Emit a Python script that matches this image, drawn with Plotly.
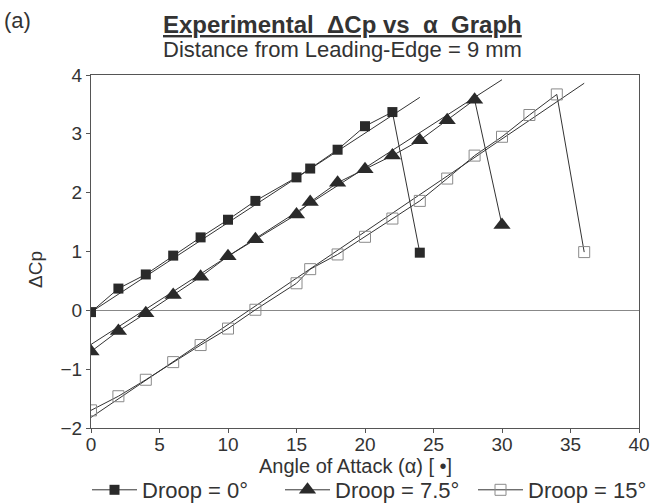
import plotly.graph_objects as go

# ---- data ----
alpha_d0 = [0, 2, 4, 6, 8, 10, 12, 15, 16, 18, 20, 22, 24]
dcp_d0 = [-0.03, 0.37, 0.61, 0.93, 1.24, 1.54, 1.86, 2.26, 2.41, 2.73, 3.13, 3.37, 0.98]

alpha_d75 = [0, 2, 4, 6, 8, 10, 12, 15, 16, 18, 20, 22, 24, 26, 28, 30]
dcp_d75 = [-0.70, -0.35, -0.05, 0.26, 0.57, 0.92, 1.21, 1.63, 1.84, 2.17, 2.40, 2.63, 2.89, 3.23, 3.58, 1.45]

alpha_d15 = [0, 2, 4, 6, 8, 10, 12, 15, 16, 18, 20, 22, 24, 26, 28, 30, 32, 34, 36]
dcp_d15 = [-1.70, -1.46, -1.18, -0.88, -0.59, -0.31, 0.01, 0.46, 0.70, 0.95, 1.25, 1.56, 1.86, 2.24,
           2.63, 2.95, 3.32, 3.67, 0.99]

# linear-fit lines (end points)
fit_x_d0 = [0, 24]
fit_y_d0 = [-0.03, 3.62]
fit_x_d75 = [0, 30]
fit_y_d75 = [-0.58, 3.92]
fit_x_d15 = [0, 36]
fit_y_d15 = [-1.82, 3.86]

legend_names = ["Droop = 0°", "Droop = 7.5°", "Droop = 15°"]
x_ticks = [0, 5, 10, 15, 20, 25, 30, 35, 40]
y_ticks = [-2, -1, 0, 1, 2, 3, 4]

FONT = "Liberation Sans, Arial, sans-serif"
INK = "#2a2a2a"
TXT = "#333333"
GREY = "#8a8a8a"

fig = go.Figure()

# fit lines
for fx, fy in [(fit_x_d0, fit_y_d0), (fit_x_d75, fit_y_d75), (fit_x_d15, fit_y_d15)]:
    fig.add_trace(go.Scatter(x=fx, y=fy, mode="lines", line=dict(color="#333333", width=1),
                             showlegend=False, hoverinfo="skip"))

fig.add_trace(go.Scatter(x=alpha_d0, y=dcp_d0, mode="lines+markers", name=legend_names[0],
                         line=dict(color="#333333", width=1),
                         marker=dict(symbol="square", size=10, color=INK)))
fig.add_trace(go.Scatter(x=alpha_d75, y=dcp_d75, mode="lines+markers", name=legend_names[1],
                         line=dict(color="#333333", width=1),
                         marker=dict(symbol="triangle-up", size=15, color=INK)))
fig.add_trace(go.Scatter(x=alpha_d15, y=dcp_d15, mode="lines+markers", name=legend_names[2],
                         line=dict(color="#333333", width=1),
                         marker=dict(symbol="square-open", size=11, color=GREY,
                                     line=dict(width=1, color=GREY))))

L, R, T, B = 91, 11, 75, 76
W, H = 650, 504
pw, ph = W - L - R, H - T - B


def px(x):
    return (x - L) / pw


def py(y):
    return (H - B - y) / ph


def note(text, x, y, size, angle=0):
    return dict(text=text, x=px(x), y=py(y), xref="paper", yref="paper", showarrow=False,
                xanchor="center", yanchor="middle", textangle=angle,
                font=dict(size=size, family=FONT, color=TXT))


fig.update_layout(
    width=W, height=H,
    margin=dict(l=L, r=R, t=T, b=B, autoexpand=False),
    paper_bgcolor="white", plot_bgcolor="white",
    font=dict(family=FONT, size=19, color=TXT),
    showlegend=True,
    legend=dict(orientation="h", x=px(87), xanchor="left", y=py(490), yanchor="middle",
                font=dict(size=22, family=FONT, color=TXT), bgcolor="rgba(0,0,0,0)",
                itemwidth=45, tracegroupgap=0, entrywidth=133, entrywidthmode="pixels"),
    xaxis=dict(range=[0, 40], tickvals=x_ticks, ticks="outside", ticklen=4, tickcolor="#555",
               showline=True, linecolor="#555", linewidth=1, mirror=True, showgrid=False,
               zeroline=False, ticklabelstandoff=-5,
               tickfont=dict(size=19, family=FONT, color=TXT)),
    yaxis=dict(range=[-2, 4], tickvals=y_ticks, ticks="outside", ticklen=4, tickcolor="#555",
               showline=True, linecolor="#555", linewidth=1, mirror=True, showgrid=False,
               zeroline=True, zerolinecolor="#888", zerolinewidth=1,
               tickfont=dict(size=19, family=FONT, color=TXT)),
    annotations=[
        note("(a)", 17, 20, 22),
        note("<u><b>Experimental  ΔCp vs  α  Graph</b></u>", 342, 25, 24),
        note("Distance from Leading-Edge = 9 mm", 342, 50, 22),
        note("ΔCp", 35, 270, 19, -90),
        note("Angle of Attack (α) [ •]", 355, 466, 20),
    ],
)

fig.write_html("out.html")
